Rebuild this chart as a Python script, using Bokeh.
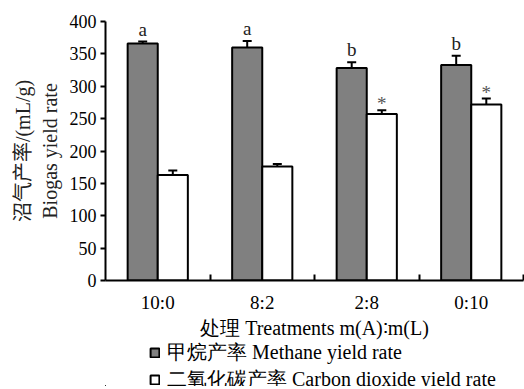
import numpy as np
from bokeh.plotting import figure
from bokeh.layouts import column
from bokeh.models import (ColumnDataSource, Whisker, TeeHead, FixedTicker,
                          Legend, LegendItem, Range1d)
from bokeh.core.properties import value
from bokeh.embed import file_html
from bokeh.resources import INLINE

# ---- data ----
categories = ["10:0", "8:2", "2:8", "0:10"]
methane = [366, 360, 328, 333]
methane_err = [3, 10, 9, 14]
co2 = [163, 176, 257, 272]
co2_err = [7, 4, 6, 9]
methane_sig = ["a", "a", "b", "b"]
co2_sig = ["", "", "*", "*"]
y_ticks = [0, 50, 100, 150, 200, 250, 300, 350, 400]
series_labels = ["甲烷产率 Methane yield rate", "二氧化碳产率 Carbon dioxide yield rate"]
x_title = "处理 Treatments m(A)∶m(L)"
y_title = "沼气产率/(mL/g)\nBiogas yield rate"

FONT = "'Liberation Serif', 'Noto Sans CJK SC'"
SERIF = "Liberation Serif"
M_FILL, C_FILL = "#808080", "white"

n = len(categories)
xc = np.arange(n) + 0.5
bw = 0.288
off = bw / 2

m_src = ColumnDataSource(dict(
    x=xc - off, top=methane,
    lo=np.array(methane) - np.array(methane_err),
    hi=np.array(methane) + np.array(methane_err),
    sig=methane_sig))
c_src = ColumnDataSource(dict(
    x=xc + off, top=co2,
    lo=np.array(co2) - np.array(co2_err),
    hi=np.array(co2) + np.array(co2_err),
    sig=co2_sig))

W = 524
H1 = 341
p = figure(width=W, height=H1, output_backend="svg", toolbar_location=None,
           x_range=Range1d(0, n), y_range=Range1d(0, 400),
           min_border_left=105, min_border_right=1, min_border_top=21,
           min_border_bottom=57)
p.outline_line_color = None
p.xgrid.grid_line_color = None
p.ygrid.grid_line_color = None

p.vbar(x="x", top="top", width=bw, source=m_src, fill_color=M_FILL,
       line_color="black", line_width=2)
p.vbar(x="x", top="top", width=bw, source=c_src, fill_color=C_FILL,
       line_color="black", line_width=2)

for src in (m_src, c_src):
    w = Whisker(source=src, base="x", lower="lo", upper="hi",
                line_width=2, line_color="black",
                upper_head=TeeHead(size=9, line_width=2, line_color="black"),
                lower_head=TeeHead(size=9, line_width=2, line_color="black"))
    p.add_layout(w)

p.text(x="x", y="hi", text="sig", source=m_src, text_align="center",
       text_baseline="bottom", y_offset=-2, text_font=value(SERIF),
       text_font_size="19px", text_color="#222222")
p.text(x="x", y="hi", text="sig", source=c_src, text_align="center",
       text_baseline="bottom", y_offset=4, text_font=value(SERIF),
       text_font_size="19px", text_color="#555555")

# y axis
ya = p.yaxis[0]
ya.ticker = FixedTicker(ticks=y_ticks, minor_ticks=[])
ya.major_tick_out = 5
ya.major_tick_in = 0
ya.major_tick_line_width = 2
ya.axis_line_width = 2
ya.major_label_standoff = 4
ya.major_label_text_font = SERIF
ya.major_label_text_font_size = "18px"
ya.major_label_text_color = "black"
ya.axis_label = y_title
ya.axis_label_text_font = FONT
ya.axis_label_text_font_style = "normal"
ya.axis_label_text_font_size = "20px"
ya.axis_label_text_color = "#222222"
ya.axis_label_text_line_height = 1.2
ya.axis_label_standoff = 6

# x axis
xa = p.xaxis[0]
xa.ticker = FixedTicker(ticks=list(xc), minor_ticks=list(range(1, n + 1)))
xa.major_label_overrides = {float(v): c for v, c in zip(xc, categories)}
xa.major_tick_line_color = None
xa.major_tick_out = 0
xa.major_tick_in = 0
xa.minor_tick_in = 6
xa.minor_tick_out = 0
xa.minor_tick_line_width = 2
xa.axis_line_width = 2
xa.major_label_standoff = 11
xa.major_label_text_font = SERIF
xa.major_label_text_font_size = "19px"
xa.major_label_text_color = "black"
xa.axis_label = x_title
xa.axis_label_text_font = SERIF
xa.axis_label_text_font_style = "normal"
xa.axis_label_text_font_size = "20px"
xa.axis_label_text_color = "black"
xa.axis_label_standoff = 1

# lower figure: legend only
H2 = 45
lg = figure(width=W, height=H2, output_backend="svg", toolbar_location=None,
            x_axis_type=None, y_axis_type=None, x_range=Range1d(0, 1),
            y_range=Range1d(0, 1), min_border_left=105, min_border_right=1,
            min_border_top=0, min_border_bottom=0)
lg.extra_x_ranges = {"offx": Range1d(1000, 2000)}
lg.extra_y_ranges = {"offy": Range1d(1000, 2000)}
lg.outline_line_color = None
lg.xgrid.grid_line_color = None
lg.ygrid.grid_line_color = None
# legend keys: same series, drawn on out-of-view ranges so only the keys show
lr_m = lg.vbar(x="x", top="top", width=bw, source=m_src, x_range_name="offx",
               y_range_name="offy", fill_color=M_FILL, line_color="black",
               line_width=2)
lr_c = lg.vbar(x="x", top="top", width=bw, source=c_src, x_range_name="offx",
               y_range_name="offy", fill_color=C_FILL, line_color="black",
               line_width=2)
legend = Legend(items=[LegendItem(label=series_labels[0], renderers=[lr_m]),
                       LegendItem(label=series_labels[1], renderers=[lr_c])],
                location=(44, H2 - 52), orientation="vertical",
                glyph_width=11, glyph_height=11, label_height=26, spacing=0,
                label_standoff=7, padding=0, margin=0,
                border_line_color=None, background_fill_alpha=0,
                label_text_font=SERIF, label_text_font_size="20px",
                label_text_color="black")
lg.add_layout(legend, "center")

layout = column(p, lg, spacing=0)
open("out.html", "w").write(file_html(layout, INLINE))
